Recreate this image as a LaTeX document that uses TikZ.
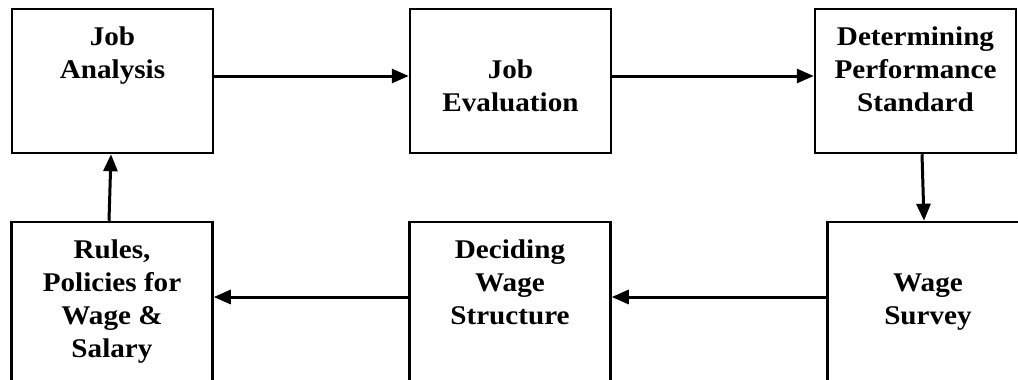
\documentclass[tikz,border=0pt]{standalone}
\usepackage{fontspec}
\newfontfamily\lblfont{Liberation Serif}[FakeStretch=1.08]
\usetikzlibrary{arrows.meta}
\begin{document}
\begin{tikzpicture}[x=1pt,y=-1pt,
  stepbox/.style={draw=black, line width=2.5pt, rectangle, minimum width=201pt, inner sep=0pt},
  topbox/.style={stepbox, minimum height=144pt},
  botbox/.style={stepbox, minimum height=170pt},
  lbl/.style={anchor=north, align=center, inner sep=0pt, font=\lblfont\bfseries\fontsize{27}{33}\selectfont},
  arr/.style={line width=3pt, -{Triangle[length=17pt,width=14pt]}}]
\clip (0,0) rectangle (1018,380);
\fill[white] (0,0) rectangle (1018,380);
% boxes
\node[topbox] (ja) at (112.5,81) {};
\node[topbox] (je) at (510.5,81) {};
\node[topbox] (dp) at (915.5,81) {};
\node[botbox] (rp) at (112,307) {};
\node[botbox] (dw) at (510,307) {};
\node[botbox] (ws) at (928,307) {};
% labels
\node[lbl] (jat) at ([yshift=-14pt]ja.north) {\strut Job\\Analysis};
\node[lbl] (jet) at ([yshift=-47pt]je.north) {\strut Job\\Evaluation};
\node[lbl] (dpt) at ([yshift=-14pt]dp.north) {\strut Determining\\Performance\\Standard};
\node[lbl] (rpt) at ([yshift=-14pt]rp.north) {\strut Rules,\\Policies for\\Wage \&\\Salary};
\node[lbl] (dwt) at ([yshift=-14pt]dw.north) {\strut Deciding\\Wage\\Structure};
\node[lbl] (wst) at ([yshift=-47pt]ws.north) {\strut Wage\\Survey};
% connectors
\draw[arr] ([yshift=5pt]ja.east) -- ([yshift=5pt]je.west);
\draw[arr] ([yshift=5pt]je.east) -- ([yshift=5pt]dp.west);
\draw[arr] ([xshift=6.5pt]dp.south) -- ([xshift=-4pt]ws.north);
\draw[arr] ([yshift=10pt]ws.west) -- ([yshift=10pt]dw.east);
\draw[arr] ([yshift=10pt]dw.west) -- ([yshift=10pt]rp.east);
\draw[arr] ([xshift=-3pt]rp.north) -- ([xshift=-1.5pt]ja.south);
\end{tikzpicture}
\end{document}
